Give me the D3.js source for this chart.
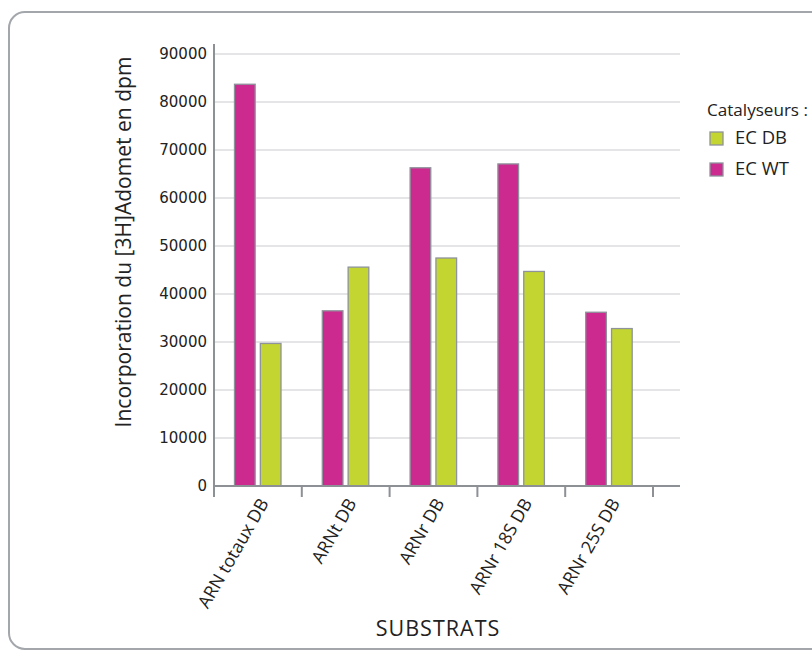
<!DOCTYPE html>
<html><head><meta charset="utf-8">
<script src="https://cdn.jsdelivr.net/npm/d3@7"></script>
<style>
body{margin:0;background:#fff;}
svg{display:block;}
.comic{font-family:"Comic Sans MS","Open Sans",sans-serif;}
</style></head>
<body><svg id="c" width="812" height="652"></svg>
<script>
const categories = ["ARN totaux DB","ARNt DB","ARNr DB","ARNr 18S DB","ARNr 25S DB"];
const seriesNames = ["EC WT","EC DB"];
const ecWT = [83700, 36500, 66300, 67100, 36200];
const ecDB = [29700, 45600, 47500, 44700, 32800];
const yTicks = [0,10000,20000,30000,40000,50000,60000,70000,80000,90000];
const legendOrder = ["EC DB","EC WT"];
const colors = {"EC WT":"#cc2a8f","EC DB":"#c3d530"};

(function(){
const svg = d3.select("#c");
// scale a text's font size so its rendered width matches the reference width
function fit(sel, target, base){
  sel.attr("font-size", base+"px");
  const w = sel.node().getComputedTextLength();
  if (w>0) sel.attr("font-size", (base*target/w).toFixed(2)+"px");
  return sel;
}
svg.append("rect").attr("x",9).attr("y",12).attr("width",830).attr("height",637)
  .attr("rx",16).attr("fill","none").attr("stroke","#a3a7ab").attr("stroke-width",2);

const pL=214, pR=680, pT=54, pB=486;
const x = d3.scaleBand().domain(categories).range([pL,653]).padding(0);
const xs = d3.scaleBand().domain(seriesNames).range([20.5,67]).paddingInner(0.2);
const y = d3.scaleLinear().domain([0,90000]).range([pB,pT]);

svg.append("g").selectAll("line").data(yTicks.filter(d=>d>0)).join("line")
  .attr("x1",pL).attr("x2",pR).attr("y1",d=>y(d)).attr("y2",d=>y(d))
  .attr("stroke","#dcdcdf").attr("stroke-width",1.5);

const yAxis = d3.axisLeft(y).tickValues(yTicks).tickSize(0).tickPadding(7).tickFormat(d3.format("d"));
const gy = svg.append("g").attr("transform",`translate(${pL},0)`).call(yAxis);
gy.select(".domain").remove();
gy.selectAll("text").attr("font-family","DejaVu Sans, Verdana, sans-serif").attr("font-size","15px").attr("fill","#222");
svg.append("line").attr("x1",pL).attr("x2",pL).attr("y1",44).attr("y2",pB+11)
  .attr("stroke","#8d9095").attr("stroke-width",2);

const data = categories.map((c,i)=>({c, vals:[{s:"EC WT",v:ecWT[i]},{s:"EC DB",v:ecDB[i]}]}));
const g = svg.append("g");
g.selectAll("g").data(data).join("g").attr("transform",d=>`translate(${x(d.c)},0)`)
  .selectAll("rect").data(d=>d.vals).join("rect")
  .attr("x",d=>xs(d.s)).attr("width",xs.bandwidth())
  .attr("y",d=>y(d.v)).attr("height",d=>pB-y(d.v))
  .attr("fill",d=>colors[d.s]).attr("stroke","#8e939c").attr("stroke-width",1.3);

svg.append("line").attr("x1",pL).attr("x2",pR).attr("y1",pB).attr("y2",pB)
  .attr("stroke","#8d9095").attr("stroke-width",2);
const tickXs = categories.map(c=>x(c)).concat([x(categories[categories.length-1])+x.bandwidth()]);
svg.append("g").selectAll("line").data(tickXs).join("line")
  .attr("x1",d=>d).attr("x2",d=>d).attr("y1",pB).attr("y2",pB+11)
  .attr("stroke","#8d9095").attr("stroke-width",2);

const labs = svg.append("g").selectAll("text").data(categories).join("text")
  .attr("class","comic")
  .attr("transform",d=>`translate(${x(d)+x.bandwidth()/2+6},${pB+14}) rotate(-60)`)
  .attr("text-anchor","end").attr("dy","0.35em")
  .attr("fill","#222").text(d=>d);
// size from the longest label (~123px in the reference)
fit(d3.select(labs.nodes()[0]), 123, 14);
labs.attr("font-size", d3.select(labs.nodes()[0]).attr("font-size"));

fit(svg.append("text").attr("class","comic")
  .attr("transform",`translate(131,242) rotate(-90)`).attr("text-anchor","middle")
  .attr("fill","#222").text("Incorporation du [3H]Adomet en dpm"), 371, 18);
fit(svg.append("text").attr("class","comic").attr("x",438).attr("y",636).attr("text-anchor","middle")
  .attr("letter-spacing","1px").attr("fill","#222").text("SUBSTRATS"), 127, 17);

const lg = svg.append("g");
fit(lg.append("text").attr("class","comic").attr("x",707).attr("y",116)
  .attr("fill","#222").text("Catalyseurs :"), 101, 14);
const li = lg.selectAll("g").data(legendOrder).join("g")
  .attr("transform",(d,i)=>`translate(710,${132+i*31})`);
li.append("rect").attr("width",13).attr("height",13).attr("fill",d=>colors[d])
  .attr("stroke","#8e939c").attr("stroke-width",1.3);
const lt = li.append("text").attr("class","comic").attr("x",25).attr("y",12)
  .attr("fill","#222").text(d=>d);
fit(d3.select(lt.nodes()[0]), 52, 14);
lt.attr("font-size", d3.select(lt.nodes()[0]).attr("font-size"));
})();
</script></body></html>
